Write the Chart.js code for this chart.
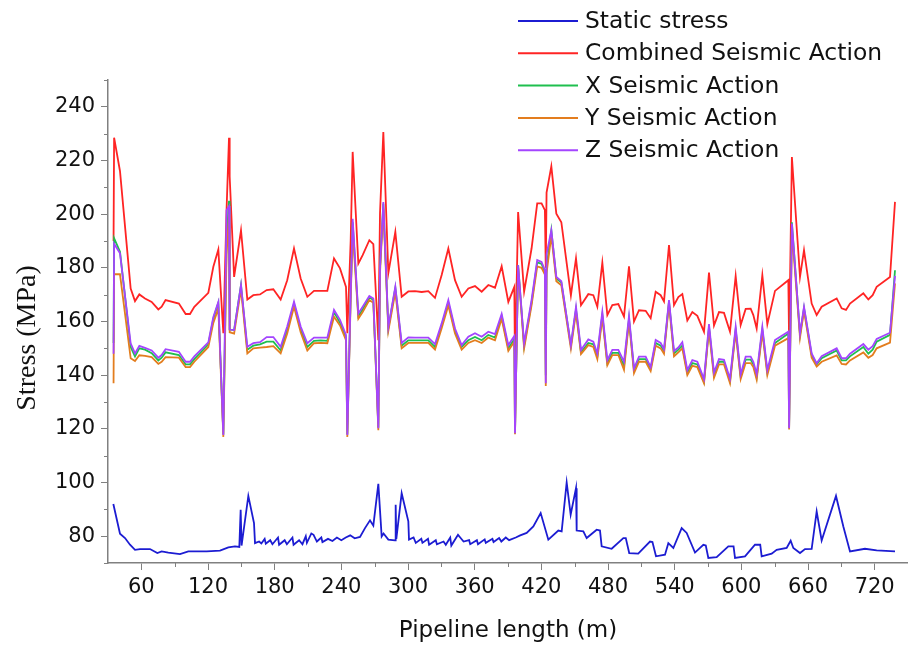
<!DOCTYPE html>
<html>
<head>
<meta charset="utf-8">
<script src="https://cdn.jsdelivr.net/npm/chart.js@4.4.1/dist/chart.umd.min.js"></script>
<style>
  html, body { margin: 0; padding: 0; background: #fff; }
  #wrap { width: 908px; height: 648px; }
</style>
</head>
<body>
<div id="wrap"><canvas id="stressChart"></canvas></div>
<script>
// ---- data ----
const seriesNames = ['Static stress', 'Combined Seismic Action', 'X Seismic Action', 'Y Seismic Action', 'Z Seismic Action'];

// nodes of the seismic curves (m)
const seismicX = [35.0, 35.5, 40.8, 50.4, 54.3, 58.2, 63.3, 69.3, 75.3, 78.3,
  81.8, 93.8, 99.9, 103.8, 107.7, 120.3, 124.8, 129.3, 133.8, 136.7,
  138.9, 139.5, 143.5, 149.7, 155.4, 160.8, 166.8, 172.8, 178.8, 185.4,
  191.3, 197.4, 203.4, 209.4, 215.4, 221.4, 227.4, 233.4, 238.8, 244.2,
  245.4, 248.4, 250.2, 255.3, 259.2, 265.2, 268.8, 273.3, 274.8, 277.8,
  282.3, 288.6, 294.3, 300.3, 306.3, 312.3, 318.3, 324.3, 330.3, 336.3,
  342.3, 348.3, 354.3, 360.3, 366.3, 372.3, 378.3, 384.3, 390.3, 395.7,
  396.3, 399.1, 404.5, 411.2, 416.3, 420.2, 423.2, 424.0, 424.7, 429.0,
  433.5, 438.0, 446.6, 451.2, 455.7, 462.3, 466.8, 470.4, 474.9, 479.4,
  483.9, 489.3, 494.4, 498.9, 503.4, 507.9, 513.9, 518.4, 522.9, 527.4,
  530.4, 534.9, 539.4, 543.3, 546.9, 551.4, 555.9, 560.4, 566.4, 570.9,
  575.4, 579.9, 584.4, 589.8, 594.9, 599.4, 603.9, 608.4, 610.8, 613.8,
  618.9, 623.4, 630.3, 642.3, 643.0, 645.5, 652.8, 656.4, 663.3, 667.8,
  672.3, 685.8, 690.3, 694.2, 697.8, 709.8, 714.3, 718.2, 721.8, 733.8,
  738.3];

const combinedStress = [190, 228.5, 216, 172.3, 167.6, 170.1, 168.6, 167.3, 164.5, 165.5,
  168, 166.7, 162.8, 162.8, 165.5, 170.7, 180.4, 186.8, 155.6, 201.5,
  228.5, 214, 176.6, 194, 168.2, 169.8, 170.1, 171.7, 172, 168.2,
  175.4, 187.2, 176, 169.2, 171.4, 171.4, 171.4, 183.5, 179.8, 172.9,
  155.6, 190, 223.2, 181.6, 184.7, 190.3, 188.8, 153, 200.2, 230.6,
  178, 193.4, 169.2, 171.2, 171.3, 171, 171.3, 168.8, 177.3, 187.2,
  175.4, 169.2, 172.3, 173.2, 171.1, 173.6, 172.6, 180.6, 167.3, 172.9,
  143, 200.8, 171.1, 187.2, 204, 204, 201.5, 180, 208, 217.8,
  200.2, 197, 169.7, 183.5, 166.1, 170.2, 169.8, 165.5, 181.9, 162.4,
  166.1, 166.5, 161.8, 180.6, 160, 164.2, 164, 161.2, 171.1, 169.8,
  167.5, 188.5, 166.1, 169.1, 170.2, 160.4, 163.5, 162.1, 156.2, 178.2,
  158.5, 163.5, 163.2, 156.2, 176.9, 158.7, 164.7, 164.8, 162.4, 157.4,
  177.3, 159, 171.4, 175.4, 152, 221.3, 176.6, 186.6, 166.7, 162.4,
  165.5, 168.6, 164.9, 164.3, 166.7, 170.5, 168.2, 169.8, 172.9, 176.6,
  204.6];

const xSeismic = [152, 191, 186, 150.5, 147, 150, 149.5, 148.2, 145.5, 146.5,
  148.5, 147.5, 144, 144, 146, 151.5, 161, 167, 118, 190,
  205, 157, 156.8, 173.6, 149.5, 151, 151.5, 152.5, 152.5, 149.2,
  157, 166.5, 157, 150.5, 152.8, 153, 152.8, 163.5, 159.5, 154,
  118, 170, 197, 162, 164.5, 169, 168, 120.5, 180, 204,
  157.5, 172.5, 151, 153, 153, 153, 153, 150.5, 158.5, 167,
  156.5, 150.5, 153, 154.2, 153, 155, 154, 162, 150, 153.5,
  118.5, 181, 151, 167, 182, 181.5, 178.5, 140, 180, 194,
  176, 174.5, 151, 164.5, 148.5, 152, 151.5, 147, 162.5, 144.5,
  148.3, 148.3, 143.5, 161, 142, 146, 146, 142.5, 152, 151,
  149, 167.5, 148, 149.5, 151, 141, 144.5, 144, 137.5, 158,
  140, 145, 145, 137.8, 157, 139.5, 145.8, 145.8, 144, 139.2,
  157, 141, 152, 155.5, 120.5, 197, 155, 165, 147.5, 144,
  146.3, 149.2, 145.5, 145.5, 147, 150.5, 148, 149.5, 152.5, 155,
  179.1];

const ySeismic = [137, 177.6, 177.6, 146.3, 145.3, 147.4, 147.2, 146.7, 144.2, 145,
  146.7, 146.5, 143, 143, 145, 150.5, 159.5, 164.8, 117, 185,
  200, 156, 155.5, 172, 148.1, 150, 150.3, 150.5, 150.8, 148.1,
  155.5, 165.5, 156, 149.2, 151.9, 152, 151.9, 161.8, 158.5, 153,
  117, 168, 194, 161, 163.5, 168, 167, 119.5, 178, 202,
  156.5, 171, 150, 152, 152, 152, 152, 149.5, 157.5, 166,
  155.5, 149.5, 152, 153, 152, 154, 153, 161, 149, 152.5,
  118, 180, 150, 166, 180.5, 180, 177.5, 136, 178, 192,
  175, 173.5, 149.9, 163.5, 147.9, 151.2, 150.5, 146, 161.5, 143.7,
  147.5, 147.5, 142, 160, 140.7, 145, 145, 141.5, 151, 150,
  148, 166.5, 147, 148.5, 150, 140, 143.5, 143, 137, 157,
  139, 144, 144, 137, 156, 138.5, 144.5, 144.5, 143, 138.3,
  156, 140, 151, 153.8, 119.8, 194, 154, 164, 146.5, 143.2,
  145, 147.4, 144.2, 144, 145.5, 148.5, 146.5, 147.5, 150, 152.1,
  174.2];

const zSeismic = [148, 189, 185.4, 151.9, 148.1, 150.9, 150.2, 149.2, 146.5, 147.5,
  149.7, 148.7, 145, 145, 147, 152.2, 161.7, 167.3, 117.7, 201.5,
  203, 157, 156.8, 173.6, 150.6, 151.9, 152.3, 154.2, 154.2, 150.6,
  158.1, 167.4, 158.1, 151.9, 154, 154, 154, 164.3, 160.6, 155,
  117.7, 170, 198.3, 163, 165.5, 169.5, 168.6, 120.2, 180, 204.5,
  158, 173, 152, 154.1, 154, 154, 154, 151.6, 159.3, 168,
  157.4, 151.2, 154.3, 155.6, 154.3, 156.2, 155.3, 162.8, 151.2, 154.6,
  118.4, 181, 151.9, 168, 182.9, 182.2, 179.1, 137, 185, 194,
  176.6, 175, 151.2, 165.5, 149.4, 153.3, 152.5, 148.1, 163.6, 145.6,
  149.4, 149.4, 145, 162, 142.5, 146.9, 146.9, 143, 153.1, 152,
  149.7, 168, 149, 150.3, 152.3, 141.9, 145.6, 145, 138.5, 159,
  141, 146, 145.7, 138.7, 158, 140.3, 146.9, 146.9, 145, 140.4,
  158, 141.9, 153.1, 156.2, 120.2, 196.5, 155.6, 165.5, 148.1, 144.4,
  147.1, 150, 146.3, 146.3, 148, 151.6, 149.5, 150.8, 153.5, 155.8,
  177];

// nodes of the static curve (m)
const staticX = [34.8, 40.8, 45.3, 49.8, 54.3, 58.8, 67.8, 74.4, 78.3, 84.3,
  94.8, 102.3, 118.8, 130.8, 138.3, 144.3, 148.2, 149.4, 150.2, 156.3,
  161.4, 162.3, 166, 168, 171, 172, 176, 178, 183, 184,
  189, 191, 196, 197, 202, 205, 208, 209, 213, 215,
  218, 222, 223, 228, 232, 236, 240, 244, 248, 252,
  256.8, 261.3, 265.8, 268.8, 273.3, 276.3, 278, 282.3, 288.3, 288.9,
  289.5, 294.3, 300.3, 300.9, 305, 307, 312, 313, 318, 319,
  325, 326, 332, 334, 338, 339, 345, 347, 350, 355,
  356, 362, 363, 369, 370, 376, 377, 382, 384, 388,
  391, 397, 401, 406.8, 412.8, 419.4, 426.3, 435.3, 438.3, 442.8,
  446.4, 451.2, 451.8, 457.8, 460.8, 469.8, 472.8, 474.3, 483.3, 493.8,
  496, 499.1, 507.2, 517.8, 520, 523.2, 531.3, 534.3, 538.8, 546.3,
  550.8, 558.3, 565.8, 568, 570.3, 577.8, 588.3, 593, 594.3, 603.3,
  612.3, 617, 618.3, 627.3, 631.8, 640.8, 644.4, 646.8, 652.8, 657.3,
  663.3, 667.8, 672.3, 685.2, 691.8, 697.8, 711.3, 721.8, 738.3];

const staticStress = [92, 80.9, 79.3, 76.8, 74.9, 75.2, 75.2, 73.7, 74.3, 73.9,
  73.3, 74.3, 74.3, 74.6, 75.8, 76.2, 76, 89.8, 76.5, 95,
  84.9, 77.4, 78, 77.3, 79, 77.2, 78.5, 77, 79.5, 76.8,
  78.5, 77, 79.5, 76.8, 78.5, 77, 80, 77.5, 81, 80.5,
  78, 79.5, 77.8, 79, 78.2, 79.5, 78.5, 79.5, 80.3, 79.2,
  79.7, 83, 85.9, 83.9, 99.5, 79.9, 81, 78.7, 78.4, 91.7,
  79, 96, 85.5, 78.7, 79.5, 77.5, 79, 77.5, 79, 76.8,
  78.5, 77, 78, 76.8, 79.5, 76.5, 80.5, 79.5, 78, 78.5,
  77, 78.5, 77, 78.8, 77.5, 79, 77.8, 79.3, 78, 79.5,
  78.5, 79.5, 80.3, 81.2, 83.6, 88.6, 78.7, 82.1, 81.8, 100,
  88, 97.9, 82.1, 81.8, 79.3, 82.4, 82.1, 76.2, 75.3, 79.3,
  79.3, 73.7, 73.5, 78, 77.8, 72.5, 73.1, 77.4, 75.6, 83,
  81.2, 73.9, 76.8, 76.5, 71.9, 72.2, 76.2, 76.2, 71.9, 72.5,
  76.8, 76.8, 72.5, 73.5, 74.9, 75.6, 78.3, 75.6, 73.7, 75.2,
  75.3, 89.2, 78.4, 95, 83.6, 74.3, 75.3, 74.7, 74.3];

const xTicks = [60, 120, 180, 240, 300, 360, 420, 480, 540, 600, 660, 720];
const xMinorTicks = [90, 150, 210, 270, 330, 390, 450, 510, 570, 630, 690, 750];
const yTicks = [80, 100, 120, 140, 160, 180, 200, 220, 240];
const yMinorTicks = [70, 90, 110, 130, 150, 170, 190, 210, 230, 250];

const colors = ['#1c1cd2', '#ff2424', '#1fbf4f', '#e37d1e', '#a445ff'];
const axisColor = '#808080';

const toPoints = (xs, ys) => xs.map((x, i) => ({ x, y: ys[i] }));

// minor tick marks, through the scales
const minorTicks = {
  id: 'minorTicks',
  afterDraw(chart) {
    const { ctx, scales: { x, y } } = chart;
    ctx.save();
    ctx.strokeStyle = axisColor;
    ctx.lineWidth = 1;
    xMinorTicks.forEach(v => {
      const px = Math.round(x.getPixelForValue(v)) + 0.5;
      ctx.beginPath(); ctx.moveTo(px, x.top); ctx.lineTo(px, x.top + 4); ctx.stroke();
    });
    yMinorTicks.forEach(v => {
      const py = Math.round(y.getPixelForValue(v)) + 0.5;
      ctx.beginPath(); ctx.moveTo(y.right, py); ctx.lineTo(y.right - 4, py); ctx.stroke();
    });
    ctx.restore();
  }
};

// y title sits a little below the centre of the axis in the original
const yTitle = {
  id: 'yTitle',
  afterDraw(chart) {
    const { ctx } = chart;
    ctx.save();
    ctx.translate(28, 338);
    ctx.rotate(-Math.PI / 2);
    ctx.font = '28px "Liberation Serif", serif';
    ctx.textAlign = 'center';
    ctx.textBaseline = 'middle';
    ctx.fillStyle = '#111';
    ctx.fillText('Stress (MPa)', 0, 0);
    ctx.restore();
  }
};

// legend in the top-right corner, no frame
const cornerLegend = {
  id: 'cornerLegend',
  afterDraw(chart) {
    const { ctx } = chart;
    const left = 518, top = 21, rowH = 32.3;
    ctx.save();
    ctx.font = '23.4px "DejaVu Sans", sans-serif';
    ctx.textBaseline = 'middle';
    ctx.fillStyle = '#111';
    chart.data.datasets.forEach((ds, i) => {
      const yy = top + i * rowH;
      ctx.strokeStyle = ds.borderColor;
      ctx.lineWidth = 2;
      ctx.beginPath(); ctx.moveTo(left, yy); ctx.lineTo(left + 60, yy); ctx.stroke();
      ctx.fillText(ds.label, left + 67, yy + 1);
    });
    ctx.restore();
  }
};

const ctx = document.getElementById('stressChart').getContext('2d');
new Chart(ctx, {
  type: 'line',
  data: {
    datasets: [
      { label: seriesNames[0], data: toPoints(staticX, staticStress), borderColor: colors[0], order: 4 },
      { label: seriesNames[1], data: toPoints(seismicX, combinedStress), borderColor: colors[1], order: 3 },
      { label: seriesNames[2], data: toPoints(seismicX, xSeismic), borderColor: colors[2], order: 2 },
      { label: seriesNames[3], data: toPoints(seismicX, ySeismic), borderColor: colors[3], order: 1 },
      { label: seriesNames[4], data: toPoints(seismicX, zSeismic), borderColor: colors[4], order: 0 }
    ]
  },
  options: {
    responsive: true,
    maintainAspectRatio: false,
    animation: false,
    layout: { padding: { top: 80, right: 0, bottom: 0, left: 0 } },
    elements: {
      line: { borderWidth: 1.8, tension: 0, fill: false },
      point: { radius: 0, hoverRadius: 0 }
    },
    plugins: { legend: { display: false }, tooltip: { enabled: false } },
    scales: {
      x: {
        type: 'linear',
        min: 30,
        max: 750,
        afterBuildTicks: s => { s.ticks = xTicks.map(v => ({ value: v })); },
        afterFit: s => { s.height = 85; },
        grid: { drawOnChartArea: false, drawTicks: true, tickLength: 7, color: axisColor },
        border: { display: true, color: axisColor, width: 1.5 },
        ticks: { color: '#111', padding: 5, maxRotation: 0, font: { family: 'DejaVu Sans', size: 21 } },
        title: {
          display: true,
          text: 'Pipeline length (m)',
          color: '#111',
          padding: { top: 0, bottom: 3 },
          font: { family: 'DejaVu Sans', size: 23 }
        }
      },
      y: {
        min: 70,
        max: 250,
        afterBuildTicks: s => { s.ticks = yTicks.map(v => ({ value: v })); },
        afterFit: s => { s.width = 108; },
        grid: { drawOnChartArea: false, drawTicks: true, tickLength: 7, color: axisColor },
        border: { display: true, color: axisColor, width: 1.5 },
        ticks: { color: '#111', padding: 6, font: { family: 'DejaVu Sans', size: 21 } }
      }
    }
  },
  plugins: [minorTicks, yTitle, cornerLegend]
});
</script>
</body>
</html>
